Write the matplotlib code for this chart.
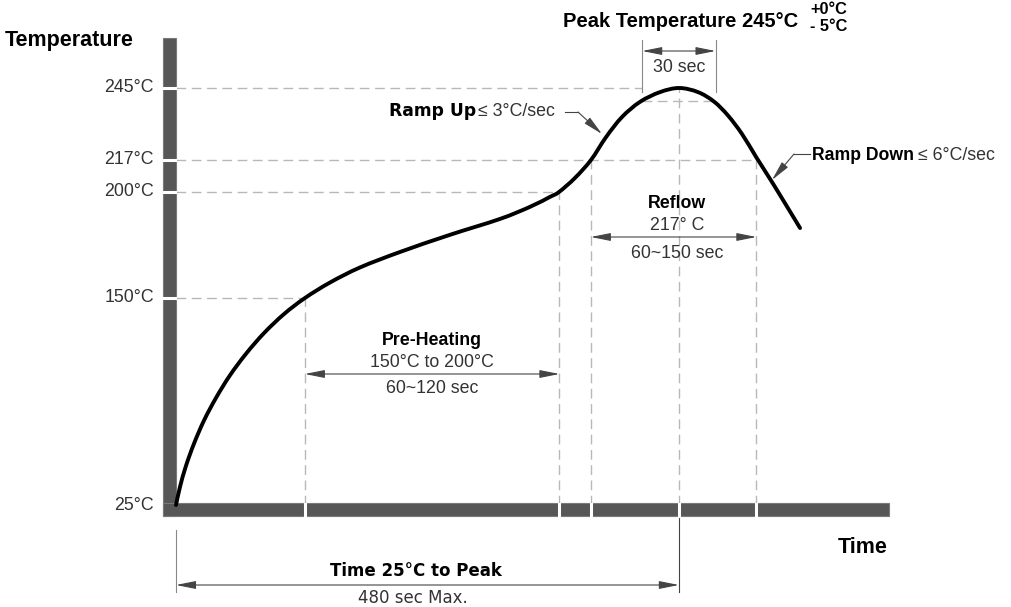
import numpy as np
import matplotlib
matplotlib.use('Agg')
import matplotlib.pyplot as plt
from matplotlib.patches import Rectangle, PathPatch
from matplotlib.path import Path
from matplotlib.transforms import Affine2D, blended_transform_factory

# reflow curve: time (s) and temperature (°C)
curve_t = [0, 3.8, 9.5, 17.2, 26.7, 38.2, 51.5, 66.8, 84.0, 103.1, 123.1, 147.0,
           175.6, 213.8, 261.5, 309.3, 337.9, 357.0, 365.6, 380.9, 396.1, 410.5,
           425.7, 442.9, 462.0, 480.2, 498.3, 513.6, 526.9, 540.3, 553.7, 568.9,
           582.3, 595.7]
curve_T = [25, 35.9, 48.6, 62.1, 76.0, 89.7, 103.3, 116.3, 128.8, 140.3, 150, 157.3,
           164.4, 171.7, 179.8, 187.3, 193.0, 197.7, 200, 207.5, 217, 225.9,
           233.7, 239.6, 243.4, 245, 243.4, 239.7, 234.3, 227.1, 218.2, 205.3,
           193.9, 183.0]

tick_temps = [25, 150, 200, 217, 245]
tick_labels = ['25°C', '150°C', '200°C', '217°C', '245°C']

preheat = (123, 366)       # 150°C -> 200°C
reflow = (396, 554)        # above 217°C
peak_t, peak_T = 480, 245
peak_window = (445, 515)   # 30 sec
peak_low = 240             # 245 - 5

# the temperature axis is schematic: where each level sits (pixels from top)
scale_T = [-100, 25, 150, 200, 217, 245, 300]
scale_px = [712, 505, 298, 192, 160, 88, -53.4]
neg_px = [-p for p in scale_px]


def fwd(v):
    return np.interp(v, scale_T, neg_px)


def inv(v):
    return np.interp(v, neg_px, scale_T)


W, H = 1012, 607
fig = plt.figure(figsize=(W / 100, H / 100), dpi=100)
ax = fig.add_axes([0, 0, 1, 1])
ax.set_yscale('function', functions=(fwd, inv))
ax.set_xlim(-168, 798)
ax.set_ylim(inv(-H), inv(0))
ax.axis('off')

# pixel coords (origin top-left) and mixed transforms
PX = Affine2D().scale(1 / W, -1 / H).translate(0, 1) + fig.transFigure
x_data_y_px = blended_transform_factory(ax.transData, PX)
x_px_y_data = blended_transform_factory(PX, ax.transData)

ARIAL = 'Liberation Sans'
VERD = 'DejaVu Sans'
GRID = '#b8b8b8'
DIM = '#444444'
TXT = '#333333'
dash = dict(color=GRID, lw=1.0, dashes=(7, 4), zorder=1)

# dashed guides
ax.plot([0, preheat[0]], [150, 150], **dash)
ax.plot([0, preheat[1]], [200, 200], **dash)
ax.plot([0, reflow[1]], [217, 217], **dash)
ax.plot([0, peak_window[0]], [peak_T, peak_T], **dash)
ax.plot(peak_window, [peak_low, peak_low], **dash)
ax.plot([preheat[0]] * 2, [25, 150], **dash)
ax.plot([preheat[1]] * 2, [25, 200], **dash)
ax.plot([reflow[0]] * 2, [25, 217], **dash)
ax.plot([reflow[1]] * 2, [25, 217], **dash)
ax.plot([peak_t] * 2, [25, peak_T], **dash)

# the curve, drawn as a smooth bezier through the read points (in scaled space)
P = ax.transScale.transform(np.column_stack([curve_t, curve_T]))
verts, codes = [P[0]], [Path.MOVETO]
n = len(P)
for i in range(n - 1):
    p0 = P[max(i - 1, 0)]
    p1, p2 = P[i], P[i + 1]
    p3 = P[min(i + 2, n - 1)]
    verts += [p1 + (p2 - p0) / 6, p2 - (p3 - p1) / 6, p2]
    codes += [Path.CURVE4] * 3
ax.add_patch(PathPatch(Path(verts, codes), fill=False, edgecolor='black', lw=2.8,
                       capstyle='round', joinstyle='round', zorder=5,
                       transform=ax.transLimits + ax.transAxes))

# thick axis bars
bar_kw = dict(facecolor='#575757', edgecolor='#7a7a7a', lw=0.8, transform=PX, zorder=3)
ax.add_patch(Rectangle((163, 38), 13, 478, **bar_kw))
ax.add_patch(Rectangle((163, 503), 726, 13, **bar_kw))
for t in [preheat[0], preheat[1], reflow[0], peak_t, reflow[1]]:
    ax.plot([t, t], [503.5, 515.5], color='white', lw=2.2, transform=x_data_y_px, zorder=4)
for T in tick_temps[1:]:
    ax.plot([163.5, 175.5], [T, T], color='white', lw=2.2, transform=x_px_y_data, zorder=4)

# tick labels and axis titles
for T, lab in zip(tick_temps, tick_labels):
    ax.text(154, T, lab, transform=x_px_y_data, ha='right', va='center',
            fontsize=12.8, color=TXT, family=ARIAL)
ax.text(5, 46, 'Temperature', transform=PX, fontsize=15.5, weight='bold',
        family=ARIAL, ha='left', va='baseline')
ax.text(888, 553, 'Time', transform=PX, fontsize=15.5, weight='bold',
        family=ARIAL, ha='right', va='baseline')


def dim_arrow(t0, t1, y):
    ax.annotate('', xy=(t1, y), xytext=(t0, y), xycoords=x_data_y_px,
                textcoords=x_data_y_px,
                arrowprops=dict(arrowstyle='<|-|>,head_length=1.0,head_width=0.2',
                                mutation_scale=12, lw=0.8, color=DIM,
                                shrinkA=0, shrinkB=0))


# pre-heating
mid = (preheat[0] + preheat[1]) / 2
ax.text(mid, 345, 'Pre-Heating', transform=x_data_y_px, ha='center', va='baseline',
        fontsize=12.8, weight='bold', family=ARIAL)
ax.text(mid, 367, '150°C to 200°C', transform=x_data_y_px, ha='center', va='baseline',
        fontsize=12.8, color=TXT, family=ARIAL)
dim_arrow(preheat[0], preheat[1], 374)
ax.text(mid, 393, '60~120 sec', transform=x_data_y_px, ha='center', va='baseline',
        fontsize=12.8, color=TXT, family=ARIAL)

# reflow
mid = (reflow[0] + reflow[1]) / 2 + 3
ax.text(mid, 208, 'Reflow', transform=x_data_y_px, ha='center', va='baseline',
        fontsize=12.8, weight='bold', family=ARIAL)
ax.text(mid, 230, '217° C', transform=x_data_y_px, ha='center', va='baseline',
        fontsize=12.8, color=TXT, family=ARIAL)
dim_arrow(reflow[0], reflow[1], 237)
ax.text(mid, 258, '60~150 sec', transform=x_data_y_px, ha='center', va='baseline',
        fontsize=12.8, color=TXT, family=ARIAL)

# peak window
for t in peak_window:
    ax.plot([t, t], [40, 92], color='#888888', lw=0.8, transform=x_data_y_px)
dim_arrow(peak_window[0], peak_window[1], 51)
ax.text(peak_t, 72, '30 sec', transform=x_data_y_px, ha='center', va='baseline',
        fontsize=12.8, color=TXT, family=ARIAL)
ax.text(563, 27, 'Peak Temperature 245°C', transform=PX, ha='left', va='baseline',
        fontsize=14.5, weight='bold', family=ARIAL)
ax.text(810, 14, '+0°C', transform=PX, ha='left', va='baseline',
        fontsize=11.8, weight='bold', family=ARIAL)
ax.text(810, 31, '- 5°C', transform=PX, ha='left', va='baseline',
        fontsize=11.8, weight='bold', family=ARIAL)

# ramp up / ramp down call-outs
ax.text(476, 116, 'Ramp Up', transform=PX, ha='right', va='baseline',
        fontsize=12.3, weight='bold', family=VERD)
ax.text(478, 116, '≤ 3°C/sec', transform=PX, ha='left', va='baseline',
        fontsize=12.8, color=TXT, family=ARIAL)
ax.plot([565, 578], [112, 112], color=DIM, lw=0.8, transform=PX)
ax.annotate('', xy=(602, 134), xytext=(578, 112), xycoords=PX, textcoords=PX,
            arrowprops=dict(arrowstyle='-|>,head_length=1.0,head_width=0.2',
                            mutation_scale=12, lw=0.8, color=DIM,
                            shrinkA=0, shrinkB=0))

ax.text(812, 160, 'Ramp Down', transform=PX, ha='left', va='baseline',
        fontsize=12.7, weight='bold', family=ARIAL)
ax.text(918, 160, '≤ 6°C/sec', transform=PX, ha='left', va='baseline',
        fontsize=12.8, color=TXT, family=ARIAL)
ax.plot([794, 810], [154, 154], color=DIM, lw=0.8, transform=PX)
ax.annotate('', xy=(772, 180), xytext=(794, 154), xycoords=PX, textcoords=PX,
            arrowprops=dict(arrowstyle='-|>,head_length=1.0,head_width=0.2',
                            mutation_scale=12, lw=0.8, color=DIM,
                            shrinkA=0, shrinkB=0))

# time 25°C to peak
ax.plot([0, 0], [530, 592], color='#888888', lw=0.8, transform=x_data_y_px)
ax.plot([peak_t, peak_t], [516, 592], color=DIM, lw=0.8, transform=x_data_y_px)
dim_arrow(0, peak_t, 585)
ax.text(416, 576, 'Time 25°C to Peak', transform=PX, ha='center', va='baseline',
        fontsize=12, weight='bold', family=VERD)
ax.text(413, 603, '480 sec Max.', transform=PX, ha='center', va='baseline',
        fontsize=12, color=TXT, family=VERD)

fig.savefig('out.png', dpi=100)
